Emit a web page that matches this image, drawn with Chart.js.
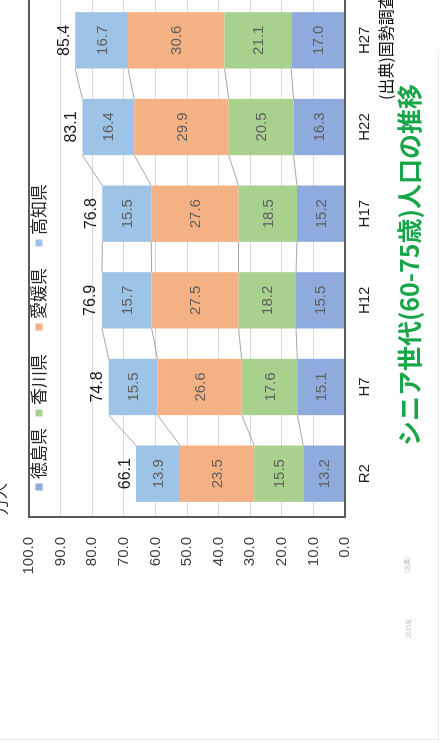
<!DOCTYPE html>
<html lang="ja">
<head>
<meta charset="utf-8">
<script src="https://cdn.jsdelivr.net/npm/chart.js@4.4.1/dist/chart.umd.min.js"></script>
<style>
  html, body { margin: 0; padding: 0; background: #fff; overflow: hidden; }
  body { width: 446px; height: 743px; position: relative; }
  #slide {
    position: absolute; left: 0; top: 0;
    width: 770px; height: 446px;
    transform-origin: 0 0;
    transform: translateY(743px) rotate(-90deg);
  }
  #slide canvas { position: absolute; left: 0; top: 0; }
  .txt { position: absolute; white-space: nowrap; line-height: 1; font-family: "Noto Sans CJK JP", sans-serif; }
  #title { left: 228px; width: 500px; top: 396px; text-align: center; font-size: 25px; font-weight: bold; color: #19a64a; }
  #source { left: 643px; top: 377px; font-size: 16px; color: #111; }
  #unit { left: 228px; top: -9px; font-size: 16px; color: #333; }
  #faint { left: 170px; top: 404px; font-size: 6px; color: #bbb; }
  #faint2 { left: 105px; top: 406px; font-size: 6px; color: #bbb; }
  .edge { position: absolute; background: #ececec; }
</style>
</head>
<body>
<div id="slide">
  <canvas id="popChart" width="770" height="446"></canvas>
  <div class="txt" id="unit">万人</div>
  <div class="txt" id="title">シニア世代(60-75歳)人口の推移</div>
  <div class="txt" id="source">(出典)国勢調査</div>
  <div class="txt" id="faint">(出典)</div>
  <div class="txt" id="faint2">2015年</div>
  <div class="edge" style="left:0;top:438px;width:693px;height:1px;"></div>
  <div class="edge" style="left:3px;top:0;width:1px;height:438px;"></div>
</div>
<script>
"use strict";

const years = ["R2", "H7", "H12", "H17", "H22", "H27"];
const prefNames = ["徳島県", "香川県", "愛媛県", "高知県"];
const tokushima = [13.2, 15.1, 15.5, 15.2, 16.3, 17.0];
const kagawa = [15.5, 17.6, 18.2, 18.5, 20.5, 21.1];
const ehime = [23.5, 26.6, 27.5, 27.6, 29.9, 30.6];
const kochi = [13.9, 15.5, 15.7, 15.5, 16.4, 16.7];
const totals = [66.1, 74.8, 76.9, 76.8, 83.1, 85.4];

const colors = ["#8faadc", "#a9d18e", "#f4b183", "#9dc3e6"];
const legendPos = [256, 330, 416, 500];

// gray lines joining the segment tops of neighbouring bars
const seriesLines = {
  id: "seriesLines",
  beforeDatasetsDraw(chart) {
    const ctx = chart.ctx;
    ctx.save();
    ctx.strokeStyle = "#a6a6a6";
    ctx.lineWidth = 1;
    chart.data.datasets.forEach((ds, d) => {
      const bars = chart.getDatasetMeta(d).data;
      for (let i = 0; i < bars.length - 1; i++) {
        const a = bars[i];
        const b = bars[i + 1];
        ctx.beginPath();
        ctx.moveTo(a.x + a.width / 2, a.y);
        ctx.lineTo(b.x - b.width / 2, b.y);
        ctx.stroke();
      }
    });
    ctx.restore();
  },
};

const labelsAndFrame = {
  id: "labelsAndFrame",
  afterDatasetsDraw(chart) {
    const ctx = chart.ctx;
    const area = chart.chartArea;
    const yScale = chart.scales.y;
    ctx.save();
    ctx.textAlign = "center";
    ctx.textBaseline = "middle";
    ctx.font = "15px 'Liberation Sans', Arial, sans-serif";
    ctx.fillStyle = "#5f5f5f";
    chart.data.datasets.forEach((ds, d) => {
      chart.getDatasetMeta(d).data.forEach((bar, i) => {
        ctx.fillText(ds.data[i].toFixed(1), bar.x, (bar.y + bar.base) / 2 + 1);
      });
    });

    // totals above each bar
    ctx.font = "16px 'Liberation Sans', Arial, sans-serif";
    ctx.fillStyle = "#1a1a1a";
    ctx.textBaseline = "bottom";
    const top = chart.getDatasetMeta(3).data;
    totals.forEach((t, i) => {
      ctx.fillText(t.toFixed(1), top[i].x, yScale.getPixelForValue(t) - 3);
    });

    // legend inside plot area
    ctx.font = "17px 'Noto Sans CJK JP', sans-serif";
    ctx.textAlign = "left";
    ctx.textBaseline = "middle";
    prefNames.forEach((name, i) => {
      ctx.fillStyle = colors[i];
      ctx.fillRect(legendPos[i] - 3.5, 35.5, 7, 7);
      ctx.fillStyle = "#262626";
      ctx.fillText(name, legendPos[i] + 8, 39);
    });

    // plot frame
    ctx.strokeStyle = "#5a5a5a";
    ctx.lineWidth = 2;
    ctx.strokeRect(area.left, area.top, area.right - area.left, area.bottom - area.top);
    ctx.restore();
  },
};

const popData = {
  labels: years,
  datasets: [
    { label: prefNames[0], data: tokushima, backgroundColor: colors[0] },
    { label: prefNames[1], data: kagawa, backgroundColor: colors[1] },
    { label: prefNames[2], data: ehime, backgroundColor: colors[2] },
    { label: prefNames[3], data: kochi, backgroundColor: colors[3] },
  ],
};

const popConfig = {
  type: "bar",
  data: popData,
  options: {
    responsive: false,
    animation: false,
    devicePixelRatio: 1,
    layout: { padding: { top: 12, left: 0, right: 24, bottom: 0 } },
    datasets: { bar: { barPercentage: 0.65, categoryPercentage: 1 } },
    scales: {
      x: {
        stacked: true,
        grid: { display: false, drawTicks: false },
        border: { display: false },
        ticks: {
          padding: 11,
          color: "#1f1f1f",
          font: { family: "'Liberation Sans', Arial, sans-serif", size: 15 },
        },
        afterFit(scale) {
          scale.height = 101;
        },
      },
      y: {
        stacked: true,
        min: 0,
        max: 100,
        grid: { color: "#d9d9d9", drawTicks: false },
        border: { display: false },
        ticks: {
          stepSize: 10,
          padding: 20,
          color: "#404040",
          font: { family: "'Liberation Sans', Arial, sans-serif", size: 15 },
          callback: (v) => v.toFixed(1),
        },
        afterFit(scale) {
          scale.width = 226;
        },
      },
    },
    plugins: {
      legend: { display: false },
      tooltip: { enabled: false },
      title: { display: false },
    },
  },
  plugins: [seriesLines, labelsAndFrame],
};

const popChart = new Chart(document.getElementById("popChart"), popConfig);
</script>
</body>
</html>
